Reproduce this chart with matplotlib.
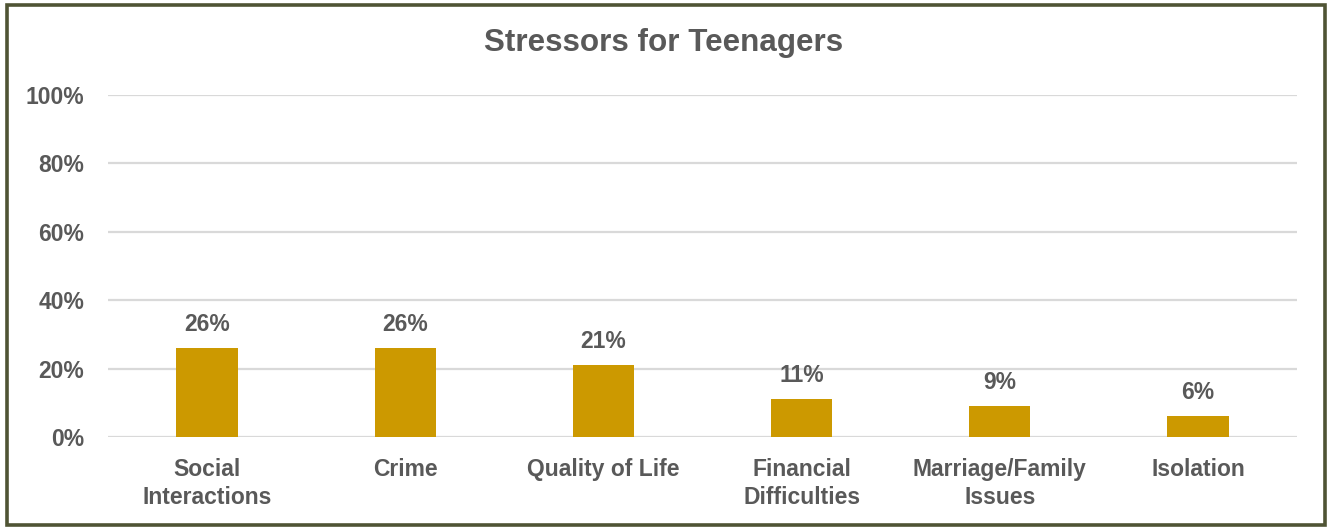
import matplotlib
matplotlib.use("Agg")
import matplotlib.pyplot as plt
from matplotlib.patches import Rectangle

categories = ["Social\nInteractions", "Crime", "Quality of Life", "Financial\nDifficulties", "Marriage/Family\nIssues", "Isolation"]
values = [0.26, 0.26, 0.21, 0.11, 0.09, 0.06]
yticks = [0, 0.2, 0.4, 0.6, 0.8, 1.0]
ytick_labels = ["0%", "20%", "40%", "60%", "80%", "100%"]
title = "Stressors for Teenagers"

plt.rcParams['font.family'] = ['Liberation Sans', 'DejaVu Sans']
text_color = "#595959"
bar_color = "#CC9900"
grid_color = "#D9D9D9"

fig = plt.figure(figsize=(13.28, 5.27), dpi=100)
ax = fig.add_axes([108/1328, 1-437/527, (1297-108)/1328, (437-95)/527])

x = list(range(len(categories)))
bars = ax.bar(x, values, width=0.31, color=bar_color, zorder=3)
ax.set_xlim(-0.5, len(categories)-0.5)
ax.set_ylim(0, 1.0)
ax.set_yticks(yticks)
ax.set_yticklabels(ytick_labels, fontsize=16.5, fontweight='bold', color=text_color)
ax.set_xticks(x)
ax.set_xticklabels(categories, fontsize=16.5, fontweight='bold', color=text_color, linespacing=1.3)
ax.tick_params(axis='both', length=0)
ax.tick_params(axis='y', pad=17)
ax.tick_params(axis='x', pad=15)
for s in ax.spines.values():
    s.set_visible(False)
ax.grid(axis='y', color=grid_color, linewidth=1.6, zorder=0)
ax.set_axisbelow(True)

for xi, v in zip(x, values):
    ax.annotate(f"{round(v*100)}%", (xi, v), xytext=(0, 9), textcoords='offset points',
                ha='center', va='bottom', fontsize=16.5, fontweight='bold', color=text_color)

fig.text(0.5, 1-43/527, title, ha='center', va='center', fontsize=22.6, fontweight='bold', color=text_color)

fig.patches.append(Rectangle((7/1328, 2/527), 1318/1328, 520/527, transform=fig.transFigure,
                             fill=False, edgecolor="#4f5434", linewidth=2.6))

fig.savefig("out.png", dpi=100)
